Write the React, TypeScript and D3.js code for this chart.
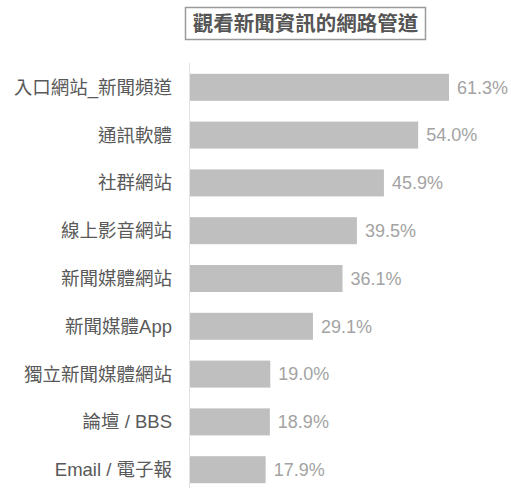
import React from "react";
import * as d3 from "d3";

const title = "觀看新聞資訊的網路管道";
const categories = [
  "入口網站_新聞頻道",
  "通訊軟體",
  "社群網站",
  "線上影音網站",
  "新聞媒體網站",
  "新聞媒體App",
  "獨立新聞媒體網站",
  "論壇 / BBS",
  "Email / 電子報",
];
const values = [61.3, 54.0, 45.9, 39.5, 36.1, 29.1, 19.0, 18.9, 17.9];

const width = 511;
const height = 488;
const font = '"Liberation Sans", "Noto Sans CJK TC", sans-serif';

const App = () => {
  const ref = React.useRef<SVGSVGElement>(null);

  React.useEffect(() => {
    const svg = d3.select(ref.current);
    svg.selectAll("*").remove();

    const x = d3.scaleLinear().domain([0, 61.3]).range([190, 449]);
    const y = d3
      .scaleBand()
      .domain(categories)
      .range([53, 504])
      .paddingInner(0.435)
      .paddingOuter(0.435);

    // title box
    svg
      .append("rect")
      .attr("x", 185.5)
      .attr("y", 7.5)
      .attr("width", 240)
      .attr("height", 32)
      .attr("fill", "none")
      .attr("stroke", "#9a9a9a")
      .attr("stroke-width", 1.5);
    svg
      .append("text")
      .attr("x", 305.5)
      .attr("y", 31)
      .attr("text-anchor", "middle")
      .attr("font-family", font)
      .attr("font-weight", "bold")
      .attr("font-size", 20.5)
      .attr("fill", "#555")
      .text(title);

    // axis line
    svg
      .append("line")
      .attr("x1", 189.5)
      .attr("x2", 189.5)
      .attr("y1", 63)
      .attr("y2", height)
      .attr("stroke", "#e2e2e2")
      .attr("stroke-width", 1);

    const rows = svg
      .selectAll("g.row")
      .data(categories)
      .join("g")
      .attr("class", "row");

    rows
      .append("rect")
      .attr("x", x(0))
      .attr("y", (d) => y(d)!)
      .attr("width", (d, i) => x(values[i]) - x(0))
      .attr("height", y.bandwidth())
      .attr("fill", "#bfbfbf");

    rows
      .append("text")
      .attr("x", 172)
      .attr("y", (d) => y(d)! + y.bandwidth() / 2)
      .attr("dy", "0.35em")
      .attr("text-anchor", "end")
      .attr("font-family", font)
      .attr("font-size", 18.5)
      .attr("fill", "#595959")
      .text((d) => d);

    rows
      .append("text")
      .attr("x", (d, i) => x(values[i]) + 8)
      .attr("y", (d) => y(d)! + y.bandwidth() / 2)
      .attr("dy", "0.35em")
      .attr("font-family", font)
      .attr("font-size", 18)
      .attr("fill", "#a3a3a3")
      .text((d, i) => values[i].toFixed(1) + "%");
  }, []);

  return (
    <svg
      ref={ref}
      width={width}
      height={height}
      style={{ position: "absolute", left: 0, top: 0, background: "#fff" }}
    />
  );
};

export default App;
